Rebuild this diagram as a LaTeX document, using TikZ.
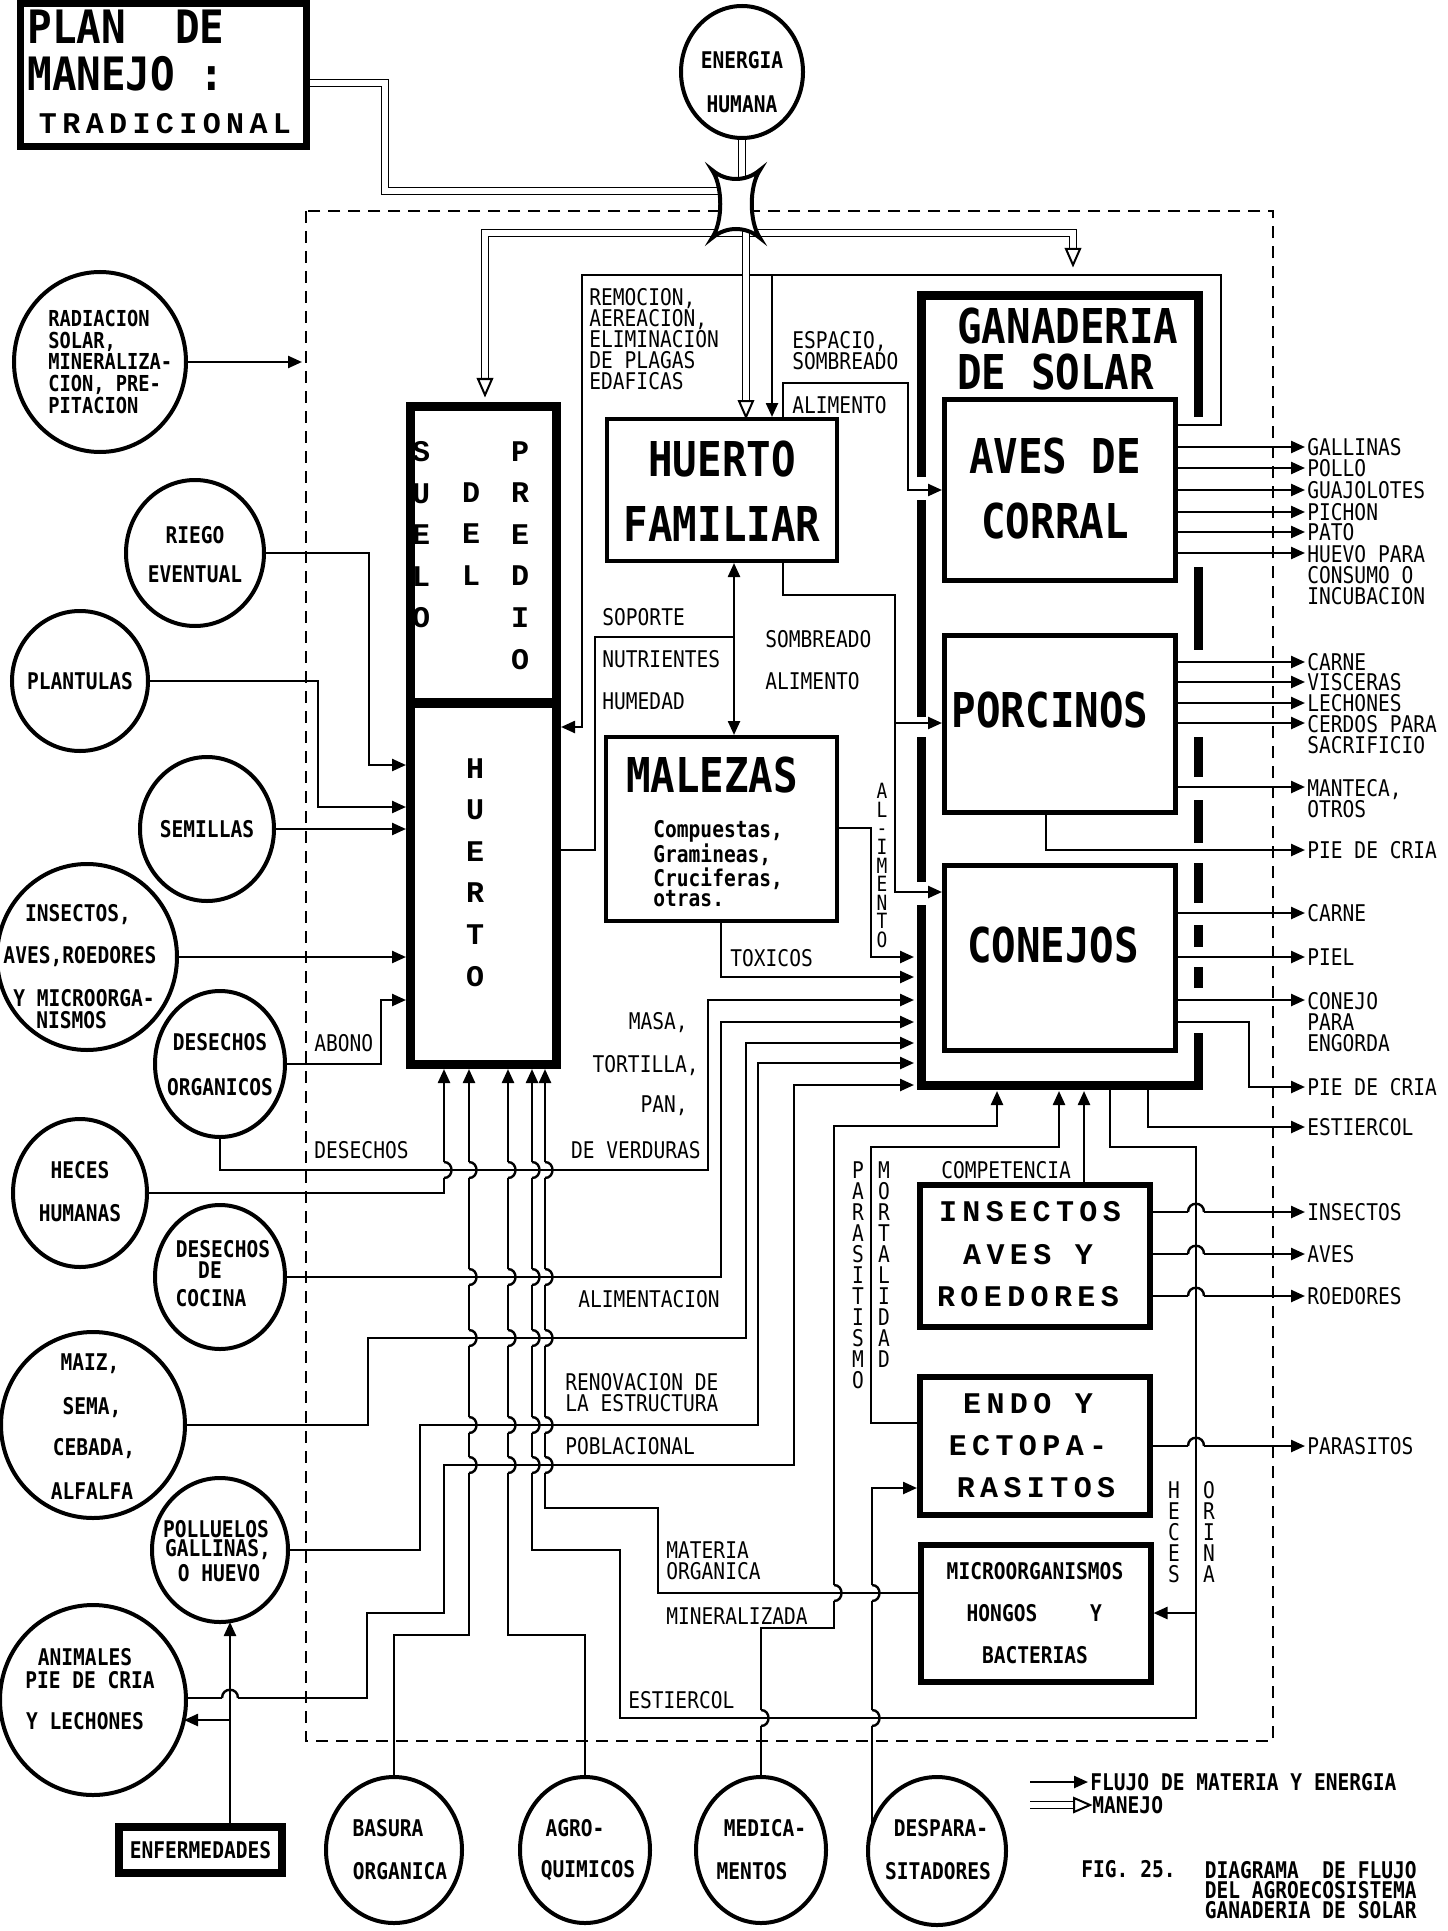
\documentclass[tikz,border=0pt]{standalone}
\usepackage{fontspec}
\usetikzlibrary{arrows.meta,shapes.geometric}
\setmainfont{DejaVu Sans}
\newfontfamily\fmono[FakeStretch=0.85]{DejaVu Sans Mono}
\newfontfamily\fmonob[FakeStretch=0.85]{DejaVu Sans Mono Bold}
\newfontfamily\fmonobt[FakeStretch=0.89]{DejaVu Sans Mono Bold}
\newfontfamily\fslab[LetterSpace=18]{Liberation Mono Bold}
\newfontfamily\fslabn{Liberation Mono Bold}
\newcommand\fS{\fmono\fontsize{11.5}{10.5}\selectfont}
\newcommand\fSt{\fmono\fontsize{11.5}{10.5}\selectfont}
\newcommand\fSv{\fmono\fontsize{10.5}{9.3}\selectfont}
\newcommand\fB{\fmonob\fontsize{11.5}{10.5}\selectfont}
\newcommand\fBr{\fmonob\fontsize{11}{10.8}\selectfont}
\newcommand\fBt{\fmonob\fontsize{11.5}{10}\selectfont}
\newcommand\fBig{\fmonob\fontsize{24}{32.5}\selectfont}
\newcommand\fTit{\fmonobt\fontsize{23}{30}\selectfont}
\newcommand\fGan{\fmonob\fontsize{24}{23}\selectfont}
\newcommand\fL{\fslabn\fontsize{15}{20.8}\selectfont}
\newcommand\fLs{\fslab\fontsize{15}{21}\selectfont}
% hop on a vertical line over a horizontal one
\newcommand\vh[2]{%
  \fill[white] ({#1-2},{#2-8}) rectangle ({#1+2},{#2+8});
  \draw[line width=1.2pt] ({#1-3},#2) -- ({#1+3},#2);
  \draw[line width=1.2pt] (#1,{#2-8}) .. controls ({#1+10},{#2-8}) and ({#1+10},{#2+8}) .. (#1,{#2+8});}
% hop on a horizontal line over a vertical one
\newcommand\hh[2]{%
  \fill[white] ({#1-8},{#2-2}) rectangle ({#1+8},{#2+2});
  \draw[line width=1.2pt] (#1,{#2-3}) -- (#1,{#2+3});
  \draw[line width=1.2pt] ({#1-8},#2) .. controls ({#1-8},{#2-11}) and ({#1+8},{#2-11}) .. ({#1+8},#2);}
\newcommand\tipdown[2]{\draw[line width=1pt, fill=white] ({#1-7},{#2-16}) -- ({#1+7},{#2-16}) -- (#1,#2) -- cycle;}
\newcommand\tipright[2]{\draw[line width=1pt, fill=white] ({#1-16},{#2-7}) -- ({#1-16},{#2+7}) -- (#1,#2) -- cycle;}
\begin{document}
\begin{tikzpicture}[x=0.5pt,y=-0.5pt,
  box/.style={draw, rectangle, inner sep=0pt, line width=2pt, fill=white},
  circ/.style={draw, ellipse, inner sep=0pt, line width=2pt, fill=white},
  ln/.style={line width=1.2pt},
  ar/.style={line width=1.2pt, -{Triangle[length=7pt,width=6pt]}},
  dar/.style={line width=1.2pt, {Triangle[length=7pt,width=6pt]}-{Triangle[length=7pt,width=6pt]}},
  mj/.style={double, double distance=2.6pt, line width=0.9pt},
  fr/.style={line width=4.5pt},
  tS/.style={font=\fS, inner sep=0pt, align=left},
  tSt/.style={font=\fSt, inner sep=0pt, align=left},
  tB/.style={font=\fB, inner sep=0pt, align=center},
  tBig/.style={font=\fBig, inner sep=0pt, align=center},
  tL/.style={font=\fL, inner sep=0pt, align=center},
  tLs/.style={font=\fLs, inner sep=0pt, align=center}
]
\fill[white] (0,0) rectangle (1447,1931);
\useasboundingbox (0,0) rectangle (1447,1931);

% system boundary
\draw[line width=1.1pt, dash pattern=on 6pt off 4pt] (306,211) rectangle (1273,1741);

% ---------------- boxes ----------------
\node[box, line width=3.5pt, minimum width=143pt, minimum height=71.5pt] (title) at (163.5,75) {};
\node[box, line width=4.5pt, minimum width=73pt, minimum height=329pt] (huerto) at (483.5,735.5) {};
\draw[line width=5pt] (huerto.west |- 0,703) -- (huerto.east |- 0,703);
\node[box, minimum width=115pt, minimum height=71pt] (hf) at (722,490) {};
\node[box, minimum width=115.5pt, minimum height=92pt] (mal) at (721.5,829) {};
\node[box, line width=2.5pt, minimum width=115.5pt, minimum height=90.5pt] (aves) at (1060,490) {};
\node[box, line width=2.5pt, minimum width=115.5pt, minimum height=88.5pt] (porc) at (1060,724) {};
\node[box, line width=2.5pt, minimum width=115.5pt, minimum height=92.5pt] (conj) at (1060,958) {};
\node[box, line width=3pt, minimum width=115pt, minimum height=71pt] (insb) at (1035,1256) {};
\node[box, line width=3pt, minimum width=115pt, minimum height=69pt] (endo) at (1035,1446) {};
\node[box, line width=3pt, minimum width=115pt, minimum height=68.5pt] (micro) at (1035.5,1613.5) {};
\node[box, line width=4pt, minimum width=81.5pt, minimum height=23pt, font=\fB] (enf) at (200.5,1850) {ENFERMEDADES};
\draw[line width=3pt] (117,1874) -- (284,1874);

% ganaderia frame
\draw[fr] (921,477) -- (921,296) -- (1198,296) -- (1198,417);
\draw[fr] (921,500) -- (921,717);
\draw[fr] (921,737) -- (921,882);
\draw[fr] (921,905) -- (921,1085) -- (1198,1085) -- (1198,1033);
\foreach \a/\b in {567/650,737/777,800/843,863/903,925/947,967/988}
  \draw[fr] (1198,\a) -- (1198,\b);

% ---------------- circles ----------------
\node[circ, minimum width=61pt, minimum height=66pt] (ener) at (742,72) {};
\node[circ, minimum width=86pt, minimum height=90pt] (rad) at (100,362) {};
\node[circ, minimum width=69pt, minimum height=73pt] (riego) at (195,553) {};
\node[circ, minimum width=68pt, minimum height=70pt] (plant) at (80,681) {};
\node[circ, minimum width=67pt, minimum height=72pt] (semi) at (207,829) {};
\node[circ, minimum width=90pt, minimum height=93pt] (insc) at (87,957) {};
\node[circ, minimum width=65pt, minimum height=73pt] (dorg) at (220,1064) {};
\node[circ, minimum width=67pt, minimum height=74pt] (heces) at (80,1193) {};
\node[circ, minimum width=65pt, minimum height=72pt] (cocina) at (220,1277) {};
\node[circ, minimum width=92pt, minimum height=93pt] (maiz) at (93,1425) {};
\node[circ, minimum width=68pt, minimum height=72pt] (poll) at (220,1550) {};
\node[circ, minimum width=93pt, minimum height=95pt] (anim) at (93,1700) {};
\node[circ, minimum width=68pt, minimum height=73pt] (basura) at (394,1850) {};
\node[circ, minimum width=65pt, minimum height=73pt] (agro) at (585,1850) {};
\node[circ, minimum width=65pt, minimum height=73pt] (medi) at (761,1850) {};
\node[circ, minimum width=69pt, minimum height=74pt] (desp) at (937,1851) {};

% ---------------- flows into huerto ----------------
\draw[ar] (rad.east) -- (302,362);
\draw[ar] (riego.east) -- (369,553) -- (369,765) -- (huerto.west |- 0,765);
\draw[ar] (plant.east) -- (318,681) -- (318,807) -- (huerto.west |- 0,807);
\draw[ar] (semi.east) -- (huerto.west |- semi.east);
\draw[ar] (insc.east) -- (huerto.west |- insc.east);
\draw[ar] (dorg.east) -- (381,1064) -- (381,1000) -- (huerto.west |- 0,1000);
\draw[ar] (heces.east) -- (444,1193) -- (huerto.south -| 444,0);
\draw[ar] (basura.north) -- (394,1635) -- (469,1635) -- (huerto.south -| 469,0);
\draw[ar] (agro.north) -- (585,1635) -- (508,1635) -- (huerto.south -| 508,0);
\draw[ar] (1110,1089) -- (1110,1147) -- (1196,1147) -- (1196,1718) -- (620,1718) -- (620,1550) -- (532,1550) -- (huerto.south -| 532,0);
\draw[ar] (1196,1613) -- (micro.east |- 0,1613);
\draw[ar] (micro.west |- 0,1593) -- (658,1593) -- (658,1508) -- (545,1508) -- (huerto.south -| 545,0);

% ---------------- flows into conejos / ganaderia ----------------
\draw[ar] (dorg.south) -- (220,1170) -- (708,1170) -- (708,1000) -- (914,1000);
\draw[ar] (cocina.east) -- (721,1277) -- (721,1022) -- (914,1022);
\draw[ar] (maiz.east) -- (368,1425) -- (368,1338) -- (746,1338) -- (746,1043) -- (914,1043);
\draw[ar] (poll.east) -- (420,1550) -- (420,1425) -- (758,1425) -- (758,1063) -- (914,1063);
\draw[ar] (anim.east |- 0,1698) -- (367,1698) -- (367,1613) -- (444,1613) -- (444,1465) -- (794,1465) -- (794,1085) -- (914,1085);
\draw[ar] (enf.north -| 230,0) -- (230,1622);
\draw[ar] (230,1720) -- (184,1720);
\draw[ar] (medi.north) -- (761,1628) -- (834,1628) -- (834,1126) -- (997,1126) -- (997,1091);
\draw[ar] (872,1826) -- (872,1488) -- (endo.west |- 0,1488);
\draw[ar] (endo.west |- 0,1423) -- (871,1423) -- (871,1147) -- (1059,1147) -- (1059,1091);
\draw[ar] (insb.north -| 1084,0) -- (1084,1091);

% ---------------- upper flows ----------------
\draw[ar] (aves.east |- 0,425) -- (1221,425) -- (1221,275) -- (582,275) -- (582,727) -- (huerto.east |- 0,727);
\draw[ar] (772,275) -- (hf.north -| 772,0);
\draw[ln] (huerto.east |- 0,850) -- (595,850) -- (595,637) -- (734,637);
\draw[dar] (hf.south -| 734,0) -- (mal.north -| 734,0);
\draw[ar] (hf.north -| 783,0) -- (783,383) -- (908,383) -- (908,490) -- (aves.west |- 0,490);
\draw[ar] (hf.south -| 783,0) -- (783,595) -- (895,595) -- (895,723) -- (porc.west |- 0,723);
\draw[ar] (895,723) -- (895,892) -- (conj.west |- 0,892);
\draw[ar] (mal.east |- 0,828) -- (871,828) -- (871,957) -- (914,957);
\draw[ar] (mal.south -| 721,0) -- (721,977) -- (914,977);

% ---------------- outputs ----------------
\foreach \y in {447,468,490,512,532,553} \draw[ar] (aves.east |- 0,\y) -- (1305,\y);
\foreach \y in {662,682,703,723,787} \draw[ar] (porc.east |- 0,\y) -- (1305,\y);
\draw[ar] (porc.south -| 1046,0) -- (1046,850) -- (1305,850);
\foreach \y in {913,957,1000} \draw[ar] (conj.east |- 0,\y) -- (1305,\y);
\draw[ar] (conj.east |- 0,1022) -- (1249,1022) -- (1249,1087) -- (1305,1087);
\draw[ar] (1148,1089) -- (1148,1127) -- (1305,1127);
\foreach \y in {1212,1254,1296} \draw[ar] (insb.east |- 0,\y) -- (1305,\y);
\draw[ar] (endo.east |- 0,1446) -- (1305,1446);

% ---------------- hops ----------------
\vh{444}{1170}
\foreach \x in {469,508,532,545} {\foreach \y in {1170,1277,1338,1425,1465} {\vh{\x}{\y}}}
\vh{834}{1593} \vh{872}{1593} \vh{872}{1718} \vh{761}{1718}
\foreach \y in {1212,1254,1296,1446} {\hh{1196}{\y}}
\hh{230}{1698}

% ---------------- management (double) lines ----------------
\draw[mj] (title.east |- 0,83) -- (385,83) -- (385,191) -- (722,191);
\draw[mj] (ener.south) -- (742,180);
\draw[mj] (485,379) -- (485,233) -- (1073,233) -- (1073,249);
\tipdown{485}{395}
\tipdown{1073}{265}
\draw[mj] (746,226) -- (746,401);
\tipdown{746}{417}
\node[inner sep=0pt, minimum width=24pt, minimum height=34pt] (xnode) at (736,204) {};
\draw[line width=2pt, fill=white] (712,170) .. controls (726,182) and (746,182) .. (760,170)
  .. controls (749,186) and (749,222) .. (760,238) .. controls (746,226) and (726,226) .. (712,238)
  .. controls (723,222) and (723,186) .. (712,170) -- cycle;

% ---------------- texts ----------------
\node[font=\fTit, anchor=north west, inner sep=0pt] (tplan) at (27,10) {PLAN\ \ DE};
\node[font=\fTit, anchor=north west, inner sep=0pt] (tman) at (27,56) {MANEJO :};
\node[tLs] (ttrad) at (165,124) {TRADICIONAL};
\node[tB] (te1) at (742,60) {ENERGIA};
\node[tB] (te2) at (742,104) {HUMANA};

\node[font=\fBr, inner sep=0pt, align=left, anchor=north west] (trad) at (48,310) {RADIACION\\SOLAR,\\MINERALIZA-\\CION, PRE-\\PITACION};
\node[tB] (tr1) at (195,535) {RIEGO};
\node[tB] (tr2) at (195,574) {EVENTUAL};
\node[tB] (tpl) at (80,681) {PLANTULAS};
\node[tB] (tse) at (207,829) {SEMILLAS};
\node[tB] (ti1) at (78,915) {INSECTOS,};
\node[tB] (ti2) at (80,957) {AVES,ROEDORES};
\node[tB] (ti3) at (84,998) {Y MICROORGA-};
\node[tB, anchor=west] (ti4) at (36,1020) {NISMOS};
\node[tB] (td1) at (220,1042) {DESECHOS};
\node[tB] (td2) at (220,1087) {ORGANICOS};
\node[tB] (th1) at (80,1170) {HECES};
\node[tB] (th2) at (80,1213) {HUMANAS};
\node[tB] (tc1) at (223,1249) {DESECHOS};
\node[tB] (tc2) at (210,1270) {DE};
\node[tB] (tc3) at (211,1298) {COCINA};
\node[tB] (tm1) at (90,1364) {MAIZ,};
\node[tB] (tm2) at (92,1408) {SEMA,};
\node[tB] (tm3) at (94,1449) {CEBADA,};
\node[tB] (tm4) at (92,1491) {ALFALFA};
\node[tB] (tp1) at (216,1529) {POLLUELOS};
\node[tB] (tp2) at (218,1550) {GALLINAS,};
\node[tB] (tp3) at (219,1573) {O HUEVO};
\node[tB] (ta1) at (85,1657) {ANIMALES};
\node[tB] (ta2) at (90,1680) {PIE DE CRIA};
\node[tB] (ta3) at (85,1721) {Y LECHONES};
\node[tB] (tb1) at (388,1828) {BASURA};
\node[tB] (tb2) at (400,1871) {ORGANICA};
\node[tB] (tq1) at (575,1828) {AGRO-};
\node[tB] (tq2) at (588,1871) {QUIMICOS};
\node[tB] (tk1) at (765,1828) {MEDICA-};
\node[tB] (tk2) at (752,1871) {MENTOS};
\node[tB] (tds1) at (941,1828) {DESPARA-};
\node[tB] (tds2) at (938,1871) {SITADORES};

% box titles
\node[tL, anchor=north] (tsu) at (421,441) {S\\U\\E\\L\\O};
\node[tL, anchor=north] (tdel) at (471,482) {D\\E\\L};
\node[tL, anchor=north] (tpr) at (520,441) {P\\R\\E\\D\\I\\O};
\node[tL, anchor=north] (thu) at (475,758) {H\\U\\E\\R\\T\\O};
\node[tBig, anchor=north] (thf) at (722,440) {HUERTO\\FAMILIAR};
\node[tBig] (tmal) at (712,775) {MALEZAS};
\node[font=\fBt, inner sep=0pt, align=left, anchor=north west] (tmal2) at (653,820) {Compuestas,\\Gramineas,\\Cruciferas,\\otras.};
\node[font=\fGan, inner sep=0pt, align=left, anchor=north west] (ganaderia) at (957,307) {GANADERIA\\DE SOLAR};
\node[tBig, anchor=north] (tav) at (1055,437) {AVES DE\\CORRAL};
\node[tBig] (tpo) at (1050,710) {PORCINOS};
\node[tBig] (tco) at (1053,945) {CONEJOS};
\node[tLs] (tin1) at (1030,1212) {INSECTOS};
\node[tLs] (tin2) at (1028,1255) {AVES Y};
\node[tLs] (tin3) at (1028,1297) {ROEDORES};
\node[tLs] (ten1) at (1028,1404) {ENDO Y};
\node[tLs] (ten2) at (1028,1446) {ECTOPA-};
\node[tLs] (ten3) at (1036,1488) {RASITOS};
\node[tB] (tmi1) at (1035,1571) {MICROORGANISMOS};
\node[tB] (tmi2) at (1002,1613) {HONGOS};
\node[tB] (tmi3) at (1096,1613) {Y};
\node[tB] (tmi4) at (1035,1655) {BACTERIAS};

% flow labels
\node[tSt, anchor=north west] (lrem) at (589,288) {REMOCION,\\AEREACION,\\ELIMINACION\\DE PLAGAS\\EDAFICAS};
\node[tSt, anchor=north west] (lesp) at (792,331) {ESPACIO,\\SOMBREADO};
\node[tS, anchor=west] (lal1) at (792,405) {ALIMENTO};
\node[tS, anchor=west] (lsop) at (602,617) {SOPORTE};
\node[tS, anchor=west] (lnut) at (602,659) {NUTRIENTES};
\node[tS, anchor=west] (lhum) at (602,701) {HUMEDAD};
\node[tS, anchor=west] (lsom) at (765,639) {SOMBREADO};
\node[tS, anchor=west] (lal2) at (765,681) {ALIMENTO};
\node[font=\fSv, inner sep=0pt, align=center, anchor=north] (lal3) at (882,783) {A\\L\\-\\I\\M\\E\\N\\T\\O};
\node[tS, anchor=west] (ltox) at (730,958) {TOXICOS};
\node[tS, anchor=east] (lmas) at (688,1023) {MASA,};
\node[tS, anchor=east] (ltor) at (699,1066) {TORTILLA,};
\node[tS, anchor=east] (lpan) at (688,1106) {PAN,};
\node[tS, anchor=east] (lver) at (701,1150) {DE VERDURAS};
\node[tS, anchor=west] (labo) at (314,1043) {ABONO};
\node[tS, anchor=west] (ldes) at (314,1150) {DESECHOS};
\node[tS, anchor=west] (lalim) at (578,1299) {ALIMENTACION};
\node[tSt, anchor=north west] (lren) at (565,1373) {RENOVACION DE\\LA ESTRUCTURA};
\node[tS, anchor=west] (lpob) at (565,1446) {POBLACIONAL};
\node[tSt, anchor=north west] (lmat) at (666,1541) {MATERIA\\ORGANICA};
\node[tS, anchor=west] (lmin) at (666,1616) {MINERALIZADA};
\node[tS, anchor=west] (lest) at (628,1700) {ESTIERCOL};
\node[tS, anchor=west] (lcom) at (941,1170) {COMPETENCIA};
\node[tS, anchor=north] (lpar) at (858,1161) {P\\A\\R\\A\\S\\I\\T\\I\\S\\M\\O};
\node[tS, anchor=north] (lmor) at (884,1161) {M\\O\\R\\T\\A\\L\\I\\D\\A\\D};
\node[tS, anchor=north] (lhec) at (1174,1481) {H\\E\\C\\E\\S};
\node[tS, anchor=north] (lori) at (1209,1481) {O\\R\\I\\N\\A};

% output labels
\node[tS, anchor=west] (o1) at (1307,447) {GALLINAS};
\node[tS, anchor=west] (o2) at (1307,468) {POLLO};
\node[tS, anchor=west] (o3) at (1307,490) {GUAJOLOTES};
\node[tS, anchor=west] (o4) at (1307,512) {PICHON};
\node[tS, anchor=west] (o5) at (1307,532) {PATO};
\node[tS, anchor=north west] (o6) at (1307,545) {HUEVO PARA\\CONSUMO O\\INCUBACION};
\node[tS, anchor=west] (o7) at (1307,662) {CARNE};
\node[tS, anchor=west] (o8) at (1307,682) {VISCERAS};
\node[tS, anchor=west] (o9) at (1307,703) {LECHONES};
\node[tSt, anchor=north west] (o10) at (1307,715) {CERDOS PARA\\SACRIFICIO};
\node[tSt, anchor=north west] (o11) at (1307,779) {MANTECA,\\OTROS};
\node[tS, anchor=west] (o12) at (1307,850) {PIE DE CRIA};
\node[tS, anchor=west] (o13) at (1307,913) {CARNE};
\node[tS, anchor=west] (o14) at (1307,957) {PIEL};
\node[tS, anchor=north west] (o15) at (1307,992) {CONEJO\\PARA\\ENGORDA};
\node[tS, anchor=west] (o16) at (1307,1087) {PIE DE CRIA};
\node[tS, anchor=west] (o17) at (1307,1127) {ESTIERCOL};
\node[tS, anchor=west] (o18) at (1307,1212) {INSECTOS};
\node[tS, anchor=west] (o19) at (1307,1254) {AVES};
\node[tS, anchor=west] (o20) at (1307,1296) {ROEDORES};
\node[tS, anchor=west] (o21) at (1307,1446) {PARASITOS};

% legend and caption
\draw[ar] (1030,1782) -- (1088,1782);
\draw[mj] (1030,1805) -- (1075,1805);
\tipright{1090}{1805}
\node[tB, anchor=west] (leg1) at (1090,1782) {FLUJO DE MATERIA Y ENERGIA};
\node[tB, anchor=west] (leg2) at (1092,1805) {MANEJO};
\node[tB, anchor=west] (fig) at (1081,1869) {FIG. 25.};
\node[font=\fBt, inner sep=0pt, align=right, anchor=north east] (cap) at (1417,1861) {DIAGRAMA\ \ DE FLUJO\\DEL AGROECOSISTEMA\\GANADERIA DE SOLAR};
\end{tikzpicture}
\end{document}
